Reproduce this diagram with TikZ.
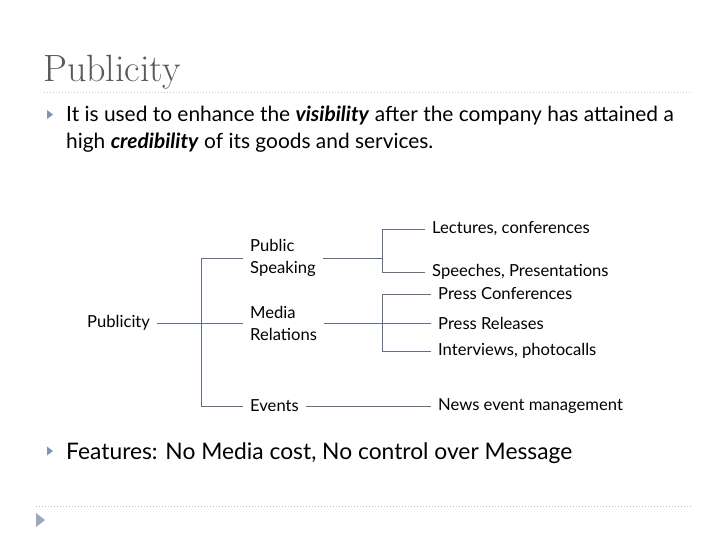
\documentclass[tikz,border=0pt]{standalone}
\usepackage{fontspec}
\setsansfont{Lato}
\usepackage{tikz}
\usetikzlibrary{positioning,calc}
\definecolor{titlegray}{HTML}{595959}
\definecolor{linkgray}{HTML}{5F6F86}
\definecolor{bulletblue}{HTML}{7F93AE}
\definecolor{dotgray}{HTML}{C8CDD4}
\definecolor{dotblue}{HTML}{A9C4DA}
\tikzset{
  branch/.style={font=\sffamily\fontsize{16.6}{22}\selectfont, anchor=west,
    inner xsep=7pt, inner ysep=0pt, align=left},
  link/.style={linkgray, line width=0.9pt},
  bodytext/.style={anchor=base west, inner sep=0pt, align=left},
}

\begin{document}
\begin{tikzpicture}[x=1pt,y=-1pt]
\useasboundingbox (0,0) rectangle (728,546);
\node[bodytext, titlegray, font=\fontsize{38}{40}\selectfont] (title) at (43,81) {Publicity};
\draw[dotgray, dotted, line width=1pt] (44,92) -- (692,92);
\fill[bulletblue] (47,110) -- (53,114.5) -- (47,119) -- cycle;
\node[bodytext, font=\sffamily\fontsize{20.9}{27}\selectfont] (intro) at (66,148)
  {It is used to enhance the \textbf{\textit{visibility}} after the company has attained a\\
   high \textbf{\textit{credibility}} of its goods and services.};
\coordinate (b1) at (201,0);
\coordinate (b2) at (382,0);
\node[branch] (pub) at (80,323) {Publicity};
\node[branch] (ps) at (243,258) {Public\\Speaking};
\node[branch] (mr) at (243,323) {Media\\Relations};
\node[branch] (ev) at (243,406) {Events};
\node[branch] (lc) at (425,229) {Lectures, conferences};
\node[branch] (sp) at (425,272) {Speeches, Presentations};
\node[branch] (pc) at (431,294) {Press Conferences};
\node[branch] (prl) at (431,323) {Press Releases};
\node[branch] (iv) at (431,351) {Interviews, photocalls};
\node[branch] (nm) at (431,406) {News event management};
\draw[link] (pub.east) -- (mr.west);
\draw[link] (ps.west) -- (ps.west -| b1) -- (ev.west -| b1) -- (ev.west);
\draw[link] (ps.east) -- (ps.east -| b2);
\draw[link] (lc.west) -- (lc.west -| b2) -- (sp.west -| b2) -- (sp.west);
\draw[link] (mr.east) -- (prl.west);
\draw[link] (pc.west) -- (pc.west -| b2) -- (iv.west -| b2) -- (iv.west);
\draw[link] (ev.east) -- (nm.west);
\fill[bulletblue] (47,446.5) -- (53,451) -- (47,455.5) -- cycle;
\node[bodytext, font=\sffamily\fontsize{22.8}{27}\selectfont] (feat) at (66,459)
  {Features: No Media cost, No control over Message};
\draw[dotblue, dotted, line width=1pt] (36,506) -- (692,506);
\fill[bulletblue!80] (36,513) -- (45,520) -- (36,527) -- cycle;
\end{tikzpicture}
\end{document}
